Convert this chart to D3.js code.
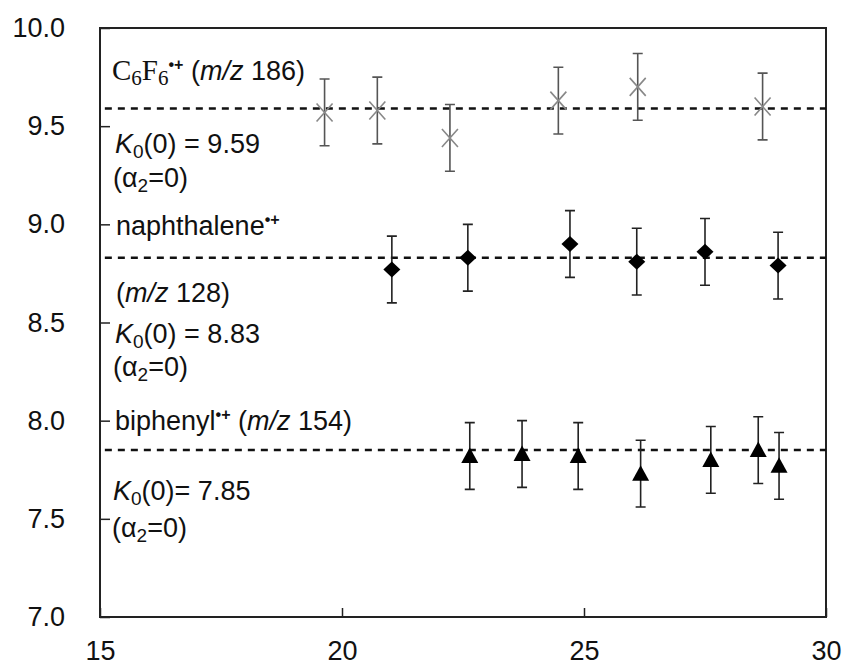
<!DOCTYPE html>
<html>
<head>
<meta charset="utf-8">
<script src="https://cdn.jsdelivr.net/npm/d3@7"></script>
<style>
  body { margin: 0; background: #fff; }
  text { font-family: "Liberation Sans", Arial, sans-serif; }
</style>
</head>
<body>
<svg id="chart" width="846" height="668"></svg>
<script>
// values
const xTicks = [15, 20, 25, 30]
const yTicks = [7.0, 7.5, 8.0, 8.5, 9.0, 9.5, 10.0]

const c6f6X = [19.64, 20.73, 22.23, 24.47, 26.11, 28.69]
const c6f6Y = [9.57, 9.58, 9.44, 9.63, 9.70, 9.60]
const c6f6Err = 0.17

const naphX = [21.03, 22.60, 24.71, 26.09, 27.50, 29.01]
const naphY = [8.77, 8.83, 8.90, 8.81, 8.86, 8.79]
const naphErr = 0.17

const biphX = [22.64, 23.72, 24.88, 26.17, 27.62, 28.60, 29.03]
const biphY = [7.82, 7.83, 7.82, 7.73, 7.80, 7.85, 7.77]
const biphErr = 0.17

const k0 = [9.59, 8.83, 7.85]

const svg = d3.select('#chart')
const xScale = d3.scaleLinear().domain([15, 30]).range([100, 826])
const yScale = d3.scaleLinear().domain([7, 10]).range([617, 28])

// frame
svg.append('rect')
  .attr('x', xScale(15)).attr('y', yScale(10))
  .attr('width', xScale(30) - xScale(15))
  .attr('height', yScale(7) - yScale(10))
  .attr('fill', 'none').attr('stroke', '#222').attr('stroke-width', 2)

// axes with inward ticks
let yAxis = d3.axisLeft(yScale).tickValues(yTicks).tickFormat(d3.format('.1f'))
  .tickSizeInner(-10).tickSizeOuter(0).tickPadding(35)
let gy = svg.append('g').attr('transform', `translate(${xScale(15)},0)`).call(yAxis)
gy.select('.domain').remove()
gy.selectAll('line').attr('stroke', '#222').attr('stroke-width', 1.5)
gy.selectAll('text').attr('font-size', 27).attr('fill', '#111')

let xAxis = d3.axisBottom(xScale).tickValues(xTicks).tickFormat(d3.format('d'))
  .tickSizeInner(-9).tickSizeOuter(0).tickPadding(24)
let gx = svg.append('g').attr('transform', `translate(0,${yScale(7)})`).call(xAxis)
gx.select('.domain').remove()
gx.selectAll('line').attr('stroke', '#222').attr('stroke-width', 1.5)
gx.selectAll('text').attr('font-size', 27).attr('fill', '#111')

// dashed K0 lines
svg.selectAll('line.k0').data(k0).enter()
  .append('line').attr('class', 'k0')
  .attr('x1', xScale(15.1)).attr('x2', xScale(30))
  .attr('y1', d => yScale(d)).attr('y2', d => yScale(d))
  .attr('stroke', '#111').attr('stroke-width', 2.5)
  .attr('stroke-dasharray', '7,6')

function errorBars (xs, ys, err, color) {
  let pts = xs.map((x, i) => ({ x: x, y: ys[i] }))
  let g = svg.append('g').attr('stroke', color).attr('stroke-width', 1.6).attr('fill', 'none')
  let path = d => {
    let x = xScale(d.x), y0 = yScale(d.y - err), y1 = yScale(d.y + err)
    return `M${x},${y0}V${y1}M${x - 5},${y0}H${x + 5}M${x - 5},${y1}H${x + 5}`
  }
  g.selectAll('path').data(pts).enter().append('path').attr('d', path)
  return pts
}

let c6f6Pts = errorBars(c6f6X, c6f6Y, c6f6Err, '#555')
let naphPts = errorBars(naphX, naphY, naphErr, '#222')
let biphPts = errorBars(biphX, biphY, biphErr, '#222')

svg.append('g').selectAll('path').data(c6f6Pts).enter().append('path')
  .attr('transform', d => `translate(${xScale(d.x)},${yScale(d.y)})`)
  .attr('d', 'M-8,-9L8,9M8,-9L-8,9')
  .attr('stroke', '#888').attr('stroke-width', 1.6).attr('fill', 'none')

svg.append('g').selectAll('path').data(naphPts).enter().append('path')
  .attr('transform', d => `translate(${xScale(d.x)},${yScale(d.y)})`)
  .attr('d', 'M0,-8L8.5,0L0,8L-8.5,0Z')
  .attr('fill', '#000')

svg.append('g').selectAll('path').data(biphPts).enter().append('path')
  .attr('transform', d => `translate(${xScale(d.x)},${yScale(d.y)})`)
  .attr('d', 'M0,-8.5L8.5,7L-8.5,7Z')
  .attr('fill', '#000')

// annotations
function label (x, y, parts) {
  let t = svg.append('text').attr('x', x).attr('y', y).attr('font-size', 27).attr('fill', '#111')
  parts.forEach(p => {
    let s = t.append('tspan').text(p.t)
    if (p.serif) s.style('font-family', '"Liberation Serif", "Times New Roman", serif').attr('font-size', 29)
    if (p.i) s.attr('font-style', 'italic')
    if (p.sub) s.attr('font-size', p.serif ? 21 : 19).attr('baseline-shift', '-5')
    if (p.sup) s.attr('font-size', 16).attr('font-weight', 'bold').attr('baseline-shift', '10')
  })
}

label(112, 80, [{ t: 'C', serif: 1 }, { t: '6', serif: 1, sub: 1 }, { t: 'F', serif: 1 }, { t: '6', serif: 1, sub: 1 },
  { t: '•+', sup: 1 }, { t: ' (' }, { t: 'm/z', i: 1 }, { t: ' 186)' }])
label(115, 153, [{ t: 'K', i: 1 }, { t: '0', sub: 1 }, { t: '(0) = 9.59' }])
label(113, 187, [{ t: '(α' }, { t: '2', sub: 1 }, { t: '=0)' }])

label(116, 235, [{ t: 'naphthalene' }, { t: '•+', sup: 1 }])
label(116, 302, [{ t: '(' }, { t: 'm/z', i: 1 }, { t: ' 128)' }])
label(115, 343, [{ t: 'K', i: 1 }, { t: '0', sub: 1 }, { t: '(0) = 8.83' }])
label(113, 376, [{ t: '(α' }, { t: '2', sub: 1 }, { t: '=0)' }])

label(115, 430, [{ t: 'biphenyl' }, { t: '•+', sup: 1 }, { t: ' (' }, { t: 'm/z', i: 1 }, { t: ' 154)' }])
label(113, 500, [{ t: 'K', i: 1 }, { t: '0', sub: 1 }, { t: '(0)= 7.85' }])
label(112, 537, [{ t: '(α' }, { t: '2', sub: 1 }, { t: '=0)' }])
</script>
</body>
</html>
